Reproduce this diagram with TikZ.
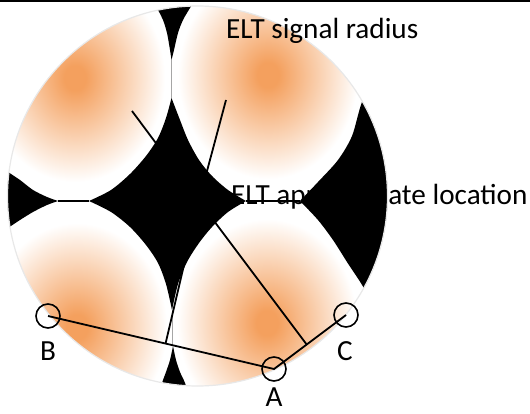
\documentclass[tikz,border=0pt]{standalone}
\usepackage{fontspec}
\setmainfont{Carlito}
\usetikzlibrary{calc}
\definecolor{eltor}{RGB}{244,160,94}
\definecolor{rimgray}{RGB}{232,232,232}
\pgfdeclareradialshading{eltglow}{\pgfpoint{0bp}{0bp}}{color(0bp)=(eltor); color(3bp)=(eltor); color(25bp)=(white); color(50bp)=(white)}
\tikzset{
  wire/.style={line width=1.8pt, black},
  seam/.style={line width=0.8pt, gray!70},
  hseam/.style={line width=1.2pt, black},
  station/.style={circle, draw, line width=1.6pt, minimum size=24pt, inner sep=0pt},
  lbl/.style={font=\fontsize{29.2}{31}\selectfont, inner sep=0pt},
  dark/.style={fill=black},
  glow/.style={shading=eltglow},
}
\begin{document}
\begin{tikzpicture}[x=1pt,y=-1pt]
\useasboundingbox (0,0) rectangle (530,414);
\fill[white] (0,0) rectangle (530,414);
\coordinate (O) at (197.5,196);
\begin{scope}
  \clip (O) circle[radius=190];
  \begin{scope}
    \clip (0,0) rectangle (171.5,201);
    \shade[glow] (75,78) ellipse[x radius=90, y radius=104];
  \end{scope}
  \begin{scope}
    \clip (171.5,0) rectangle (400,201);
    \shade[glow] (268,75) ellipse[x radius=90, y radius=104];
  \end{scope}
  \begin{scope}
    \clip (0,201) rectangle (171.5,400);
    \shade[glow] (77,327) ellipse[x radius=90, y radius=104];
  \end{scope}
  \begin{scope}
    \clip (171.5,201) rectangle (400,400);
    \shade[glow] (267,323) ellipse[x radius=90, y radius=104];
  \end{scope}
  % top wedge
  \fill[dark] (148,-10) -- plot[smooth] coordinates {(157,8) (163,20) (167,33) (170,50) (171.5,60)}
     -- plot[smooth] coordinates {(171.5,60) (174,50) (178,33) (183,20) (190,8)} -- (200,-10) -- cycle;
  % left wedge
  \fill[dark] (-10,160) -- plot[smooth] coordinates {(8,172) (20,180) (33,190) (47,197) (58,201)}
     -- plot[smooth] coordinates {(58,201) (47,205) (33,212) (20,220) (8,228)} -- (-10,240) -- cycle;
  % central star
  \fill[dark] plot[smooth] coordinates {(171.5,98) (166,118) (158,138) (146,156) (130,174) (111,190) (89,201)}
     -- plot[smooth] coordinates {(89,201) (111,212) (130,227) (146,245) (158,263) (166,284) (172,310)}
     -- plot[smooth] coordinates {(172,310) (178,284) (187,262) (199,243) (212,227) (228,212) (246,201)}
     -- plot[smooth] coordinates {(246,201) (228,190) (212,176) (199,160) (188,140) (180,120) (171.5,98)} -- cycle;
  % right region
  \fill[dark] plot[smooth] coordinates {(380,62) (362,102) (352,136) (338,160) (318,182) (300,201)}
     -- plot[smooth] coordinates {(300,201) (318,220) (333,240) (347,262) (365,290) (378,320)}
     -- (420,320) -- (420,62) -- cycle;
  % bottom wedge
  \fill[dark] plot[smooth] coordinates {(157,400) (162,383) (166,372) (170,360) (173,346)}
     -- plot[smooth] coordinates {(173,346) (176,360) (180,372) (185,383) (190,400)} -- cycle;
  % seams
  \draw[seam] (171.5,60) -- (171.5,98);
  \draw[seam] (172,310) -- (172,346);
  \draw[hseam] (58,201) -- (89,201);
  \draw[hseam] (246,201) -- (300,201);
\end{scope}
\draw[rimgray, line width=1.2pt] (O) circle[radius=190];
% top rule
\coordinate (TL) at (0,1.25);
\coordinate (TR) at (530,1.25);
\draw[line width=2.5pt] (TL) -- (TR);
% ELT location and radii
\coordinate (P) at (199,201);
\coordinate (E1) at (132,111);
\coordinate (E2) at (226,100);
\node[station] (B) at (48,316) {};
\node[station] (A) at (274,369) {};
\node[station] (C) at (346,315) {};
\draw[wire] (B.center) -- (A.center) -- (C.center);
\draw[wire] (P) -- (E1);
\draw[wire] (P) -- (E2);
\draw[wire] (P) -- ($(A.center)!(P)!(C.center)$);
\draw[wire] (P) -- ($(B.center)!(P)!(A.center)$);
% labels
\node[lbl, anchor=base west] (sig) at (226,39) {ELT signal radius};
\node[lbl, anchor=base west] (loc) at (231,205) {ELT approximate location};
\node[lbl, anchor=base] (la) at (274,406) {A};
\node[lbl, anchor=base] (lb) at (48,360) {B};
\node[lbl, anchor=base] (lc) at (345,360) {C};
\end{tikzpicture}
\end{document}
